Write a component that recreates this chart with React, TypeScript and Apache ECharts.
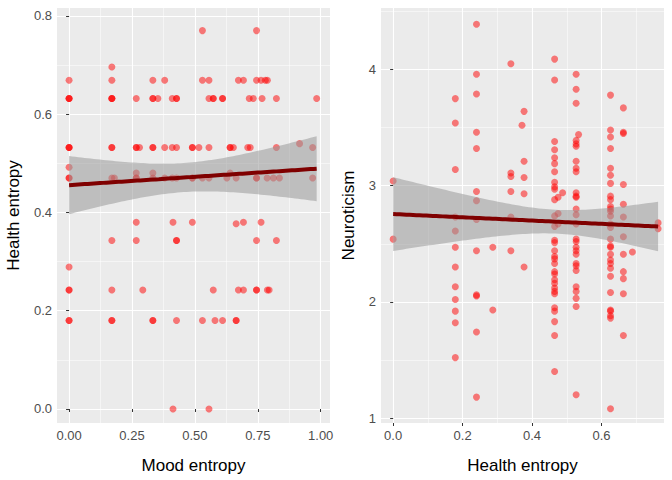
import * as echarts from "echarts";
import { useEffect, useRef } from "react";

// left panel: mood entropy (x) vs health entropy (y)
const moodHealth: [number, number][] = [
	[0.53, 0.77], [0.745, 0.77], [0.17, 0.696],
	[0, 0.669], [0.17, 0.669], [0.333, 0.669], [0.38, 0.669], [0.53, 0.669], [0.556, 0.669], [0.673, 0.669], [0.693, 0.669], [0.745, 0.669], [0.763, 0.669], [0.78, 0.669], [0.788, 0.669],
	[0, 0.632], [0, 0.632], [0, 0.632], [0.17, 0.632], [0.17, 0.632], [0.17, 0.632], [0.267, 0.632], [0.333, 0.632], [0.333, 0.632], [0.353, 0.632], [0.41, 0.632], [0.427, 0.632], [0.427, 0.632], [0.556, 0.632], [0.573, 0.632], [0.573, 0.632], [0.61, 0.632], [0.61, 0.632], [0.716, 0.632], [0.732, 0.632], [0.767, 0.632], [0.824, 0.632], [0.984, 0.632],
	[0, 0.532], [0, 0.532], [0, 0.532], [0.17, 0.532], [0.17, 0.532], [0.267, 0.532], [0.267, 0.532], [0.28, 0.532], [0.333, 0.532], [0.333, 0.532], [0.38, 0.532], [0.41, 0.532], [0.427, 0.532], [0.49, 0.532], [0.49, 0.532], [0.516, 0.532], [0.556, 0.532], [0.64, 0.532], [0.64, 0.532], [0.653, 0.532], [0.71, 0.532], [0.72, 0.532], [0.824, 0.532], [0.916, 0.54], [0.968, 0.532],
	[0, 0.492],
	[0, 0.47], [0, 0.47], [0.17, 0.47], [0.18, 0.47], [0.267, 0.47], [0.267, 0.47], [0.333, 0.47], [0.38, 0.47], [0.41, 0.47], [0.427, 0.47], [0.49, 0.47], [0.49, 0.47], [0.53, 0.47], [0.556, 0.47], [0.627, 0.47], [0.664, 0.47], [0.745, 0.47], [0.745, 0.47], [0.787, 0.47], [0.812, 0.47], [0.836, 0.47], [0.968, 0.47],
	[0.267, 0.48], [0.333, 0.48], [0.64, 0.48],
	[0.267, 0.38], [0.413, 0.38], [0.49, 0.38], [0.664, 0.377], [0.693, 0.38], [0.763, 0.38],
	[0.17, 0.343], [0.267, 0.343], [0.427, 0.343], [0.427, 0.343], [0.745, 0.343], [0.824, 0.343],
	[0, 0.289],
	[0, 0.242], [0, 0.242], [0.17, 0.242], [0.293, 0.242], [0.573, 0.242], [0.673, 0.242], [0.693, 0.242], [0.745, 0.242], [0.745, 0.242], [0.788, 0.242], [0.795, 0.242],
	[0, 0.18], [0, 0.18], [0.17, 0.18], [0.17, 0.18], [0.333, 0.18], [0.333, 0.18], [0.427, 0.18], [0.53, 0.18], [0.58, 0.18], [0.61, 0.18], [0.664, 0.18], [0.664, 0.18],
	[0.413, 0], [0.556, 0]
];

// right panel: health entropy (x) vs neuroticism (y)
const neuroByHealth: [number, number[]][] = [
	[0, [3.04, 2.54]],
	[0.179, [3.75, 3.54, 3.14, 2.73, 2.61, 2.47, 2.3, 2.13, 2.02, 1.92, 1.82, 1.52]],
	[0.24, [4.39, 3.96, 3.79, 3.46, 3.32, 2.95, 2.87, 2.71, 2.44, 2.06, 2.05, 1.74, 1.18]],
	[0.287, [2.47, 1.93]],
	[0.339, [4.05, 3.11, 3.08, 2.95, 2.73, 2.44]],
	[0.371, [3.52]],
	[0.377, [3.64, 3.21, 3.07, 2.93, 2.3]],
	[0.465, [4.09, 3.91, 3.38, 3.31, 3.24, 3.19, 3.12, 3.03, 2.99, 2.97, 2.88, 2.74, 2.65, 2.53, 2.51, 2.44, 2.39, 2.37, 2.33, 2.26, 2.24, 2.19, 2.16, 2.12, 2.09, 2.07, 1.95, 1.92, 1.83, 1.71, 1.4]],
	[0.475, [2.9, 2.76, 2.67]],
	[0.488, [2.94]],
	[0.527, [3.96, 3.83, 3.71, 3.39, 3.36, 3.34, 3.21, 3.15, 3.12, 2.94, 2.91, 2.9, 2.8, 2.75, 2.67, 2.54, 2.52, 2.47, 2.44, 2.41, 2.33, 2.31, 2.27, 2.13, 2.09, 2.03, 1.96, 1.2]],
	[0.534, [3.44]],
	[0.626, [3.78, 3.48, 3.42, 3.32, 3.15, 3.09, 3.02, 2.91, 2.88, 2.82, 2.8, 2.78, 2.74, 2.67, 2.64, 2.54, 2.48, 2.47, 2.41, 2.36, 2.33, 2.29, 2.22, 2.08, 1.93, 1.92, 1.88, 1.86, 1.08]],
	[0.663, [3.67, 3.46, 3.45, 3.01, 2.84, 2.73, 2.56, 2.41, 2.26, 2.2, 2.07, 1.71]],
	[0.689, [2.43]],
	[0.763, [2.68, 2.63]]
];
const healthNeuro: [number, number][] = neuroByHealth.flatMap(([x, ys]) => ys.map((y) => [x, y] as [number, number]));

const leftXTicks = [0, 0.25, 0.5, 0.75, 1];
const leftXMinor = [0.125, 0.375, 0.625, 0.875];
const leftYTicks = [0, 0.2, 0.4, 0.6, 0.8];
const leftYMinor = [0.1, 0.3, 0.5, 0.7];
const rightXTicks = [0, 0.2, 0.4, 0.6];
const rightXMinor = [0.1, 0.3, 0.5, 0.7];
const rightYTicks = [1, 2, 3, 4];
const rightYMinor = [1.5, 2.5, 3.5, 4.5];

// linear fit with 95% confidence band, like geom_smooth(method = "lm")
function fit(pts: [number, number][]) {
	const n = pts.length;
	const mx = pts.reduce((s, p) => s + p[0], 0) / n;
	const my = pts.reduce((s, p) => s + p[1], 0) / n;
	let sxx = 0, sxy = 0;
	pts.forEach(([x, y]) => { sxx += (x - mx) ** 2; sxy += (x - mx) * (y - my); });
	const b = sxy / sxx, a = my - b * mx;
	let sse = 0;
	pts.forEach(([x, y]) => { sse += (y - a - b * x) ** 2; });
	const s = Math.sqrt(sse / (n - 2));
	const xs = pts.map((p) => p[0]);
	const lo = Math.min(...xs), hi = Math.max(...xs);
	const line: [number, number][] = [], upper: number[][] = [], lower: number[][] = [];
	for (let i = 0; i <= 80; i++) {
		const x = lo + ((hi - lo) * i) / 80;
		const yh = a + b * x;
		const se = s * Math.sqrt(1 / n + (x - mx) ** 2 / sxx);
		line.push([x, yh]);
		upper.push([x, yh + 1.97 * se]);
		lower.push([x, yh - 1.97 * se]);
	}
	return { line, band: upper.concat(lower.reverse()) };
}

const axisText = { color: "#4D4D4D", fontSize: 13, fontFamily: "Liberation Sans" };
const nameText = { color: "#000", fontSize: 17, fontFamily: "Liberation Sans" };

function mainAxis(grid: number, min: number, max: number, ticks: number[], fmt: (v: number) => string, name: string, gap: number, isX: boolean) {
	return {
		type: "value", gridIndex: grid, min, max, name, nameLocation: "middle", nameGap: gap, nameTextStyle: nameText,
		axisLine: { show: false },
		axisTick: { show: true, length: 3, lineStyle: { color: "#333" }, customValues: ticks },
		axisLabel: { ...axisText, customValues: ticks, formatter: fmt, margin: isX ? 6 : 5 },
		splitLine: { show: true, lineStyle: { color: "#fff", width: 1.1 } },
		z: 1
	};
}
function minorAxis(grid: number, min: number, max: number, ticks: number[]) {
	return {
		type: "value", gridIndex: grid, min, max,
		axisLine: { show: false },
		axisTick: { show: true, length: 0, lineStyle: { opacity: 0 }, customValues: ticks },
		axisLabel: { show: false, customValues: ticks },
		splitLine: { show: true, lineStyle: { color: "#fff", width: 0.5 } },
		z: 1
	};
}

function bandSeries(xi: number, yi: number, band: number[][]) {
	return {
		type: "custom", xAxisIndex: xi, yAxisIndex: yi, data: [0], silent: true, z: 3,
		renderItem: (_p: any, api: any) => ({
			type: "polygon",
			shape: { points: band.map((p) => api.coord(p)) },
			style: { fill: "rgba(153,153,153,0.55)" }
		})
	};
}

const left = fit(moodHealth);
const right = fit(healthNeuro);

const points = { type: "scatter", symbolSize: 7, itemStyle: { color: "red", opacity: 0.5 }, z: 2 };
const fitLine = { type: "line", showSymbol: false, lineStyle: { color: "#7F0000", width: 4 }, z: 4 };

const option: any = {
	animation: false,
	backgroundColor: "#fff",
	grid: [
		{ left: 57, right: 342, top: 8, bottom: 57, backgroundColor: "#EBEBEB", show: true, borderWidth: 0 },
		{ left: 381, right: 8, top: 8, bottom: 57, backgroundColor: "#EBEBEB", show: true, borderWidth: 0 }
	],
	xAxis: [
		mainAxis(0, -0.048, 1.037, leftXTicks, (v) => v.toFixed(2), "Mood entropy", 34, true),
		minorAxis(0, -0.048, 1.037, leftXMinor),
		mainAxis(1, -0.035, 0.78, rightXTicks, (v) => v.toFixed(1), "Health entropy", 34, true),
		minorAxis(1, -0.035, 0.78, rightXMinor)
	],
	yAxis: [
		mainAxis(0, -0.0285, 0.816, leftYTicks, (v) => v.toFixed(1), "Health entropy", 35, false),
		minorAxis(0, -0.0285, 0.816, leftYMinor),
		mainAxis(1, 0.957, 4.53, rightYTicks, (v) => String(Math.round(v)), "Neuroticism", 24, false),
		minorAxis(1, 0.957, 4.53, rightYMinor)
	],
	series: [
		{ ...points, xAxisIndex: 0, yAxisIndex: 0, data: moodHealth },
		bandSeries(0, 0, left.band),
		{ ...fitLine, xAxisIndex: 0, yAxisIndex: 0, data: left.line },
		{ ...points, xAxisIndex: 2, yAxisIndex: 2, data: healthNeuro },
		bandSeries(2, 2, right.band),
		{ ...fitLine, xAxisIndex: 2, yAxisIndex: 2, data: right.line }
	]
};

const App = () => {
	const chartRef = useRef<HTMLDivElement>(null);

	useEffect(() => {
		const chart = echarts.init(chartRef.current!, undefined, { renderer: "svg" });
		chart.setOption(option);
		return () => {
			chart.dispose();
		};
	}, []);

	return <div ref={chartRef} style={{ width: "672px", height: "480px", position: "absolute", left: 0, top: 0 }} />;
};

export default App;
